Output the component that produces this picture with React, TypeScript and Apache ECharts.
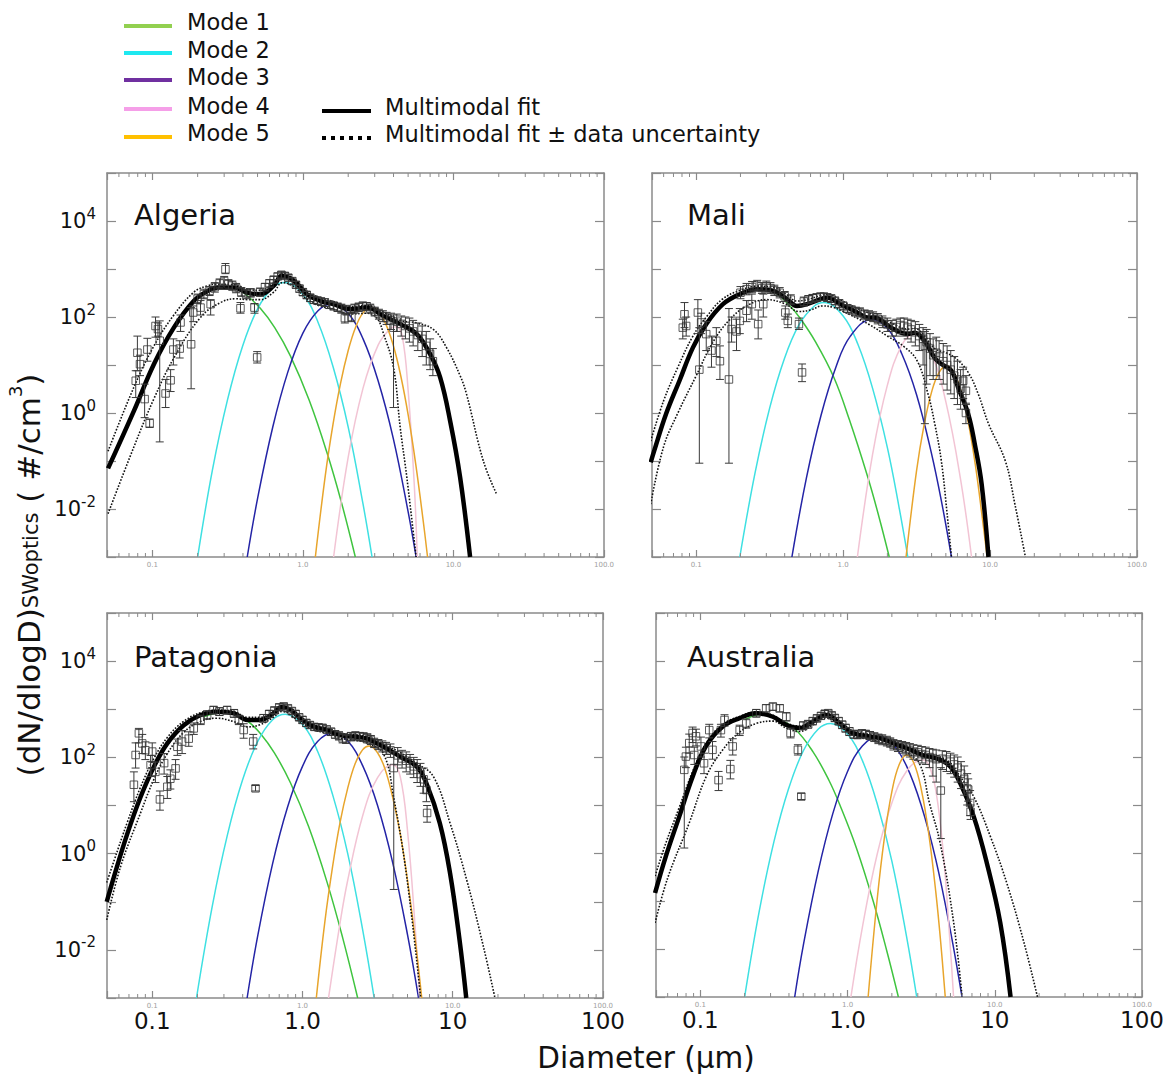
import React, { useEffect, useRef } from 'react';
import * as echarts from 'echarts';

const FONT = 'DejaVu Sans, Verdana, sans-serif';

// ---------- axis ticks / labels ----------
const X_TICK_VALUES = [0.1, 1, 10, 100];
const X_TICK_LABELS_SMALL = ['0.1', '1.0', '10.0', '100.0'];
const X_TICK_LABELS = ['0.1', '1.0', '10', '100'];
const X_MINOR_TICKS = [0.06, 0.07, 0.08, 0.09, 0.2, 0.3, 0.4, 0.5, 0.6, 0.7, 0.8, 0.9, 2, 3, 4, 5, 6, 7, 8, 9, 20, 30, 40, 50, 60, 70, 80, 90];
const Y_LABEL_EXPONENTS = [-2, 0, 2, 4];

const PANEL_NAMES = ['Algeria', 'Mali', 'Patagonia', 'Australia'];
const LEGEND_MODES = ['Mode 1', 'Mode 2', 'Mode 3', 'Mode 4', 'Mode 5'];
const LEGEND_COLORS = ['#92d050', '#1ee8f0', '#7030a0', '#f59fe8', '#ffc000'];
const MODE_COLORS = ['#3fc43f', '#3ee0e2', '#2424a6', '#f2c4d4', '#e8a52c'];

// ---------- Algeria ----------
const ALGERIA_MODE1 = [[0.25, 385], [0.3, 405], [0.35, 400], [0.405, 320], [0.523, 150], [0.65, 60], [0.826, 15.5], [1.1, 1.86], [1.445, 0.15], [1.8, 0.014], [2.23, 0.001]];
const ALGERIA_MODE2 = [[0.2, 0.001], [0.251, 0.066], [0.316, 1.9], [0.398, 25], [0.501, 150], [0.631, 410], [0.757, 525], [1.0, 295], [1.26, 78], [1.585, 9.3], [2.0, 0.51], [2.51, 0.0126], [2.88, 0.001]];
const ALGERIA_MODE3 = [[0.427, 0.001], [0.501, 0.017], [0.631, 0.51], [0.794, 7.1], [1.0, 46], [1.26, 135], [1.55, 186], [2.0, 118], [2.51, 35], [3.16, 4.7], [3.98, 0.3], [5.01, 0.0085], [5.65, 0.001]];
const ALGERIA_MODE4 = [[1.6, 0.001], [2.0, 0.12], [2.51, 3.3], [3.16, 26], [3.8, 57], [4.17, 63], [4.57, 40], [5.0, 3], [5.5, 0.03], [5.75, 0.001]];
const ALGERIA_MODE5 = [[1.21, 0.001], [1.41, 0.051], [1.585, 0.58], [1.78, 4.2], [2.0, 20], [2.24, 61], [2.51, 122], [2.85, 157], [3.16, 133], [3.55, 72], [3.98, 26], [4.47, 5.9], [5.01, 0.89], [5.62, 0.085], [6.31, 0.0054], [6.73, 0.001]];
const ALGERIA_FIT = [[0.0508, 0.07], [0.0756, 1.12], [0.1026, 10.5], [0.139, 60], [0.189, 217], [0.23, 340], [0.27, 410], [0.348, 410], [0.426, 323], [0.523, 298], [0.64, 445], [0.727, 720], [0.869, 565], [1.066, 298], [1.306, 217], [1.6, 185], [2.065, 145], [2.66, 157], [3.44, 105], [4.43, 71], [5.71, 44], [7.0, 16.8], [8.16, 5.5], [9.5, 0.69], [11.07, 0.046], [12.9, 0.001]];
const ALGERIA_FIT_HI = [[0.0508, 0.16], [0.0756, 3.5], [0.1026, 25], [0.139, 110], [0.189, 330], [0.23, 440], [0.27, 480], [0.35, 470], [0.43, 380], [0.52, 360], [0.64, 520], [0.73, 800], [0.87, 640], [1.07, 340], [1.3, 250], [1.6, 210], [2.07, 165], [2.66, 175], [3.44, 125], [4.43, 85], [5.7, 75], [7.36, 55], [9.0, 23], [11.07, 6], [12.2, 2.5], [15.8, 0.1], [19.4, 0.02]];
const ALGERIA_FIT_LO = [[0.0508, 0.008], [0.0756, 0.2], [0.1026, 2], [0.139, 14], [0.209, 98], [0.284, 200], [0.36, 240], [0.43, 230], [0.52, 230], [0.64, 330], [0.73, 520], [0.87, 430], [1.07, 230], [1.3, 170], [1.6, 145], [2.07, 115], [2.66, 120], [3.1, 95], [3.44, 44], [4.0, 8.9], [4.43, 0.5], [4.9, 0.046], [5.65, 0.001]];
// [diameter, value, lower, upper]
const ALGERIA_OBS = [
  [0.0776, 4.7, 2.1, 7.6], [0.0796, 18, 7.6, 40], [0.0828, 10.4, 6, 16], [0.0889, 1.95, 0.8, 4], [0.0927, 21, 12, 36], [0.096, 0.61, 0.5, 0.75],
  [0.105, 65, 38, 100], [0.109, 56, 40, 75], [0.112, 32, 0.25, 83], [0.1225, 2.55, 1.3, 5], [0.1323, 4.8, 2.8, 8], [0.138, 21, 10, 35],
  [0.152, 22, 14, 32], [0.154, 77, 50, 110], [0.181, 27, 3.2, 157], [0.187, 124, 80, 170], [0.2, 240, 190, 300], [0.209, 157, 110, 220],
  [0.22, 300, 240, 380], [0.24, 350, 280, 430], [0.244, 185, 110, 230], [0.26, 420, 330, 520], [0.28, 500, 400, 620], [0.3, 560, 450, 700],
  [0.306, 986, 800, 1300], [0.32, 480, 380, 600], [0.34, 450, 360, 560], [0.36, 400, 320, 500], [0.385, 152, 120, 200], [0.39, 330, 270, 410],
  [0.42, 300, 240, 370], [0.45, 320, 260, 390], [0.477, 157, 120, 190], [0.497, 14.4, 11, 19], [0.52, 330, 270, 400], [0.56, 420, 350, 500],
  [0.6, 500, 420, 600], [0.64, 600, 510, 700], [0.68, 700, 600, 820], [0.72, 760, 650, 880], [0.76, 720, 620, 840], [0.8, 660, 560, 770],
  [0.85, 560, 480, 650], [0.9, 470, 400, 550], [0.95, 390, 330, 460], [1.0, 330, 280, 390], [1.06, 290, 240, 340], [1.12, 250, 210, 300],
  [1.18, 230, 190, 270], [1.25, 220, 185, 260], [1.32, 210, 175, 250], [1.4, 200, 165, 240], [1.5, 180, 150, 215], [1.6, 170, 140, 205],
  [1.7, 160, 130, 195], [1.8, 150, 120, 185], [1.9, 95, 75, 120], [1.95, 140, 110, 175], [2.1, 100, 80, 125], [2.2, 150, 120, 185],
  [2.35, 160, 130, 195], [2.5, 170, 140, 205], [2.65, 165, 135, 200], [2.8, 150, 120, 185], [3.0, 130, 105, 160], [3.2, 115, 90, 145],
  [3.4, 105, 80, 135], [3.6, 95, 70, 125], [3.85, 85, 55, 120], [4.0, 60, 1.3, 110], [4.2, 80, 50, 115], [4.5, 72, 40, 105],
  [4.8, 65, 35, 100], [5.1, 58, 30, 95], [5.4, 50, 25, 85], [5.8, 42, 20, 75], [6.2, 35, 15, 65], [6.6, 25, 10, 50], [7.0, 17, 8, 35], [7.3, 12, 6, 22],
];

// ---------- Mali ----------
const MALI_MODE1 = [[0.2, 300], [0.258, 380], [0.33, 345], [0.436, 167], [0.511, 93], [0.65, 30], [0.865, 5.5], [1.1, 0.74], [1.465, 0.048], [1.75, 0.007], [2.06, 0.001]];
const MALI_MODE2 = [[0.198, 0.001], [0.251, 0.055], [0.316, 1.26], [0.398, 13.5], [0.501, 69], [0.631, 166], [0.739, 200], [1.0, 105], [1.26, 27], [1.585, 3.3], [2.0, 0.19], [2.4, 0.011], [2.755, 0.001]];
const MALI_MODE3 = [[0.448, 0.001], [0.562, 0.044], [0.708, 0.91], [0.891, 8.9], [1.12, 40], [1.563, 89], [2.0, 58], [2.51, 17], [3.16, 2.4], [3.98, 0.15], [4.7, 0.013], [5.46, 0.001]];
const MALI_MODE4 = [[1.25, 0.001], [1.585, 0.135], [2.0, 3.8], [2.51, 26], [3.06, 44], [3.98, 17], [5.01, 1.66], [6.31, 0.04], [7.48, 0.001]];
const MALI_MODE5 = [[2.68, 0.001], [3.16, 0.063], [3.55, 0.55], [3.98, 2.6], [4.47, 6.8], [5.05, 9.5], [5.62, 7.3], [6.31, 3.0], [7.08, 0.68], [7.94, 0.083], [8.91, 0.0056], [9.55, 0.001]];
const MALI_FIT = [[0.049, 0.094], [0.0518, 0.164], [0.0623, 0.95], [0.0769, 4.7], [0.0949, 23], [0.117, 71], [0.152, 185], [0.198, 298], [0.258, 380], [0.336, 350], [0.414, 235], [0.484, 170], [0.568, 185], [0.701, 235], [0.778, 254], [0.961, 185], [1.25, 124], [1.465, 98], [1.627, 98], [2.12, 60], [2.755, 44], [3.06, 47], [3.58, 31.6], [4.2, 14], [4.66, 10.5], [5.46, 7.6], [6.06, 3.4], [7.1, 0.95], [7.88, 0.22], [8.76, 0.033], [9.75, 0.001]];
const MALI_FIT_HI = [[0.049, 0.26], [0.06, 1.8], [0.075, 9], [0.095, 40], [0.12, 110], [0.152, 240], [0.2, 360], [0.26, 440], [0.336, 410], [0.414, 290], [0.484, 215], [0.568, 230], [0.701, 280], [0.778, 300], [0.961, 225], [1.25, 150], [1.5, 120], [2.12, 75], [2.755, 56], [3.06, 58], [3.58, 40], [4.2, 22], [5.0, 18], [5.8, 14], [7.1, 7], [8.3, 2.5], [9.75, 0.6], [12.7, 0.1], [14.8, 0.012], [17.4, 0.001]];
const MALI_FIT_LO = [[0.049, 0.0126], [0.06, 0.2], [0.075, 1.0], [0.1, 6], [0.13, 30], [0.17, 90], [0.22, 170], [0.3, 230], [0.4, 190], [0.5, 130], [0.6, 140], [0.72, 170], [0.85, 160], [1.0, 130], [1.5, 70], [2.0, 40], [2.6, 24], [3.2, 12], [3.78, 2.5], [4.2, 0.6], [4.66, 0.1], [5.1, 0.008], [5.46, 0.001]];
const MALI_OBS = [
  [0.081, 60, 35, 90], [0.0832, 114, 60, 200], [0.0854, 65, 40, 100], [0.1026, 124, 45, 230], [0.105, 8, 0.09, 60], [0.108, 77, 45, 120],
  [0.117, 44, 20, 80], [0.127, 20, 9, 40], [0.137, 32, 15, 60], [0.145, 12, 5, 25], [0.167, 5, 0.09, 150], [0.174, 56, 30, 100],
  [0.188, 50, 20, 90], [0.198, 83, 45, 150], [0.2, 320, 240, 430], [0.22, 135, 80, 220], [0.22, 380, 290, 500], [0.239, 185, 90, 300],
  [0.24, 420, 320, 550], [0.26, 450, 350, 580], [0.264, 71, 35, 140], [0.28, 400, 310, 520], [0.286, 185, 100, 300], [0.3, 430, 330, 560],
  [0.32, 400, 310, 520], [0.34, 360, 280, 460], [0.37, 320, 250, 410], [0.4, 270, 210, 340], [0.404, 124, 90, 170], [0.42, 83, 60, 115],
  [0.44, 230, 180, 290], [0.5, 71, 55, 95], [0.525, 7.0, 4.5, 10.5], [0.54, 210, 170, 260], [0.58, 230, 190, 280], [0.62, 245, 205, 295],
  [0.66, 255, 215, 305], [0.7, 265, 220, 315], [0.74, 265, 220, 315], [0.78, 255, 210, 305], [0.83, 240, 200, 290], [0.88, 215, 180, 260],
  [0.94, 190, 155, 230], [1.0, 170, 140, 205], [1.07, 150, 125, 180], [1.14, 140, 115, 170], [1.22, 130, 105, 160], [1.3, 125, 100, 155],
  [1.4, 112, 90, 140], [1.5, 105, 85, 135], [1.6, 100, 80, 128], [1.72, 92, 72, 118], [1.85, 80, 60, 105], [2.0, 70, 50, 95],
  [2.15, 60, 40, 85], [2.3, 62, 40, 90], [2.45, 68, 45, 95], [2.6, 65, 40, 95], [2.75, 60, 35, 90], [2.9, 55, 30, 85],
  [3.1, 48, 25, 80], [3.3, 40, 20, 70], [3.5, 35, 10, 60], [3.6, 25, 0.6, 50], [3.7, 30, 4, 55], [3.9, 22, 6, 45],
  [4.1, 16, 5, 35], [4.3, 18, 6, 38], [4.5, 15, 5, 32], [4.8, 12, 4, 28], [5.1, 10, 3, 25], [5.4, 8, 2.5, 20],
  [5.7, 6, 2, 15], [6.0, 5, 1.5, 12], [6.3, 3.2, 1.2, 8], [6.56, 4.7, 2, 9], [6.85, 2.9, 1.5, 6], [6.85, 1.0, 0.6, 1.6],
];

// ---------- Patagonia ----------
const PATAGONIA_MODE1 = [[0.22, 700], [0.3, 870], [0.36, 790], [0.428, 580], [0.526, 311], [0.65, 124], [0.83, 30], [1.1, 3.6], [1.46, 0.25], [1.85, 0.018], [2.33, 0.001]];
const PATAGONIA_MODE2 = [[0.197, 0.001], [0.251, 0.081], [0.316, 2.4], [0.398, 33], [0.501, 208], [0.631, 600], [0.769, 790], [1.0, 480], [1.26, 134], [1.585, 17], [2.0, 1.0], [2.51, 0.027], [3.0, 0.001]];
const PATAGONIA_MODE3 = [[0.428, 0.001], [0.501, 0.018], [0.631, 0.6], [0.794, 9.1], [1.0, 65], [1.26, 213], [1.59, 316], [2.0, 218], [2.51, 68], [3.16, 10], [3.98, 0.66], [5.01, 0.02], [5.92, 0.001]];
const PATAGONIA_MODE4 = [[1.49, 0.001], [1.78, 0.037], [2.0, 0.28], [2.51, 6], [3.16, 38], [3.98, 70], [4.47, 40], [5.0, 3], [5.62, 0.03], [6.03, 0.001]];
const PATAGONIA_MODE5 = [[1.236, 0.001], [1.41, 0.039], [1.585, 0.53], [1.78, 4.5], [2.0, 23], [2.24, 74], [2.51, 143], [2.77, 172], [3.16, 125], [3.55, 56], [3.98, 15], [4.47, 2.6], [5.01, 0.27], [5.62, 0.017], [6.22, 0.001]];
const PATAGONIA_FIT = [[0.0498, 0.1], [0.0556, 0.33], [0.0683, 2.6], [0.0836, 15], [0.1026, 64], [0.126, 195], [0.162, 465], [0.21, 760], [0.27, 890], [0.35, 820], [0.43, 600], [0.525, 600], [0.64, 820], [0.73, 1120], [0.85, 930], [0.967, 645], [1.19, 433], [1.46, 369], [1.78, 290], [2.18, 270], [2.67, 245], [3.45, 166], [4.48, 103], [5.76, 64], [6.68, 29], [8.2, 4.3], [9.6, 0.39], [11.1, 0.016], [12.3, 0.001]];
const PATAGONIA_FIT_HI = [[0.0498, 0.25], [0.0556, 0.7], [0.0683, 4.5], [0.0836, 24], [0.1026, 95], [0.126, 260], [0.162, 560], [0.21, 850], [0.27, 960], [0.35, 900], [0.43, 680], [0.525, 680], [0.64, 900], [0.73, 1200], [0.85, 1000], [0.967, 700], [1.19, 480], [1.46, 410], [1.78, 320], [2.18, 300], [2.67, 275], [3.45, 190], [4.48, 125], [5.76, 75], [7.43, 40], [9.6, 4.3], [12.4, 0.28], [16, 0.0117], [19.1, 0.001]];
const PATAGONIA_FIT_LO = [[0.0498, 0.042], [0.0616, 0.54], [0.0836, 7], [0.1026, 35], [0.126, 120], [0.162, 330], [0.21, 560], [0.27, 650], [0.35, 550], [0.43, 430], [0.525, 480], [0.64, 680], [0.73, 900], [0.967, 540], [1.19, 370], [1.46, 320], [1.78, 250], [2.18, 230], [2.67, 200], [3.45, 120], [4.04, 15], [4.94, 0.33], [6.12, 0.001]];
const PATAGONIA_OBS = [
  [0.0755, 27, 12, 50], [0.0775, 112, 60, 200], [0.0815, 316, 200, 400], [0.0858, 195, 120, 300], [0.09, 141, 90, 210], [0.0975, 69, 40, 110],
  [0.1, 132, 80, 200], [0.105, 50, 30, 80], [0.1125, 13.4, 8, 20], [0.12, 76, 45, 120], [0.126, 24.5, 14, 40], [0.132, 36, 22, 55],
  [0.143, 59, 35, 90], [0.147, 166, 110, 240], [0.158, 213, 120, 360], [0.175, 245, 170, 340], [0.189, 400, 300, 520], [0.21, 600, 480, 750],
  [0.232, 760, 620, 930], [0.256, 960, 800, 1150], [0.28, 890, 740, 1080], [0.315, 960, 800, 1150], [0.35, 820, 680, 990], [0.377, 600, 480, 750],
  [0.406, 370, 250, 500], [0.47, 213, 150, 300], [0.487, 22.7, 20, 26], [0.55, 650, 540, 780], [0.6, 800, 680, 940], [0.65, 950, 810, 1100],
  [0.7, 1100, 950, 1280], [0.75, 1150, 990, 1330], [0.8, 1050, 900, 1220], [0.85, 920, 790, 1070], [0.9, 800, 680, 940], [0.95, 680, 580, 800],
  [1.0, 600, 510, 710], [1.06, 520, 440, 610], [1.12, 470, 400, 550], [1.2, 430, 365, 505], [1.28, 420, 355, 495], [1.36, 410, 345, 485],
  [1.45, 380, 320, 450], [1.55, 340, 285, 405], [1.65, 300, 250, 360], [1.75, 280, 230, 340], [1.85, 250, 200, 310], [1.95, 240, 195, 295],
  [2.1, 270, 220, 330], [2.25, 280, 230, 340], [2.4, 270, 220, 330], [2.55, 265, 215, 325], [2.7, 250, 200, 310], [2.85, 230, 185, 285],
  [3.0, 200, 160, 250], [3.2, 185, 145, 235], [3.4, 170, 130, 220], [3.6, 155, 115, 205], [3.85, 140, 100, 190], [4.05, 60, 0.18, 130],
  [4.3, 110, 70, 160], [4.6, 95, 60, 140], [4.9, 85, 50, 130], [5.2, 75, 45, 115], [5.5, 65, 38, 100], [5.8, 55, 30, 90],
  [6.1, 45, 25, 75], [6.4, 35, 18, 60], [6.68, 21, 12, 35], [6.75, 7, 4.5, 10],
];

// ---------- Australia ----------
const AUSTRALIA_MODE1 = [[0.2, 600], [0.27, 800], [0.33, 640], [0.4375, 388], [0.583, 128], [0.75, 32], [0.887, 10], [1.15, 1.26], [1.496, 0.098], [1.85, 0.009], [2.215, 0.001]];
const AUSTRALIA_MODE2 = [[0.2, 0.001], [0.251, 0.06], [0.316, 1.7], [0.398, 22], [0.501, 135], [0.631, 380], [0.767, 500], [1.0, 300], [1.26, 85], [1.585, 11], [2.0, 0.68], [2.51, 0.019], [2.95, 0.001]];
const AUSTRALIA_MODE3 = [[0.4375, 0.001], [0.501, 0.012], [0.631, 0.41], [0.794, 6.6], [1.0, 50], [1.26, 170], [1.62, 268], [2.0, 195], [2.51, 66], [3.16, 10], [3.98, 0.72], [5.01, 0.023], [5.99, 0.001]];
const AUSTRALIA_MODE4 = [[1.054, 0.001], [1.26, 0.028], [1.585, 0.91], [2.0, 11], [2.51, 50], [3.2, 87], [3.55, 70], [3.98, 20], [4.47, 1.0], [5.0, 0.01], [5.25, 0.001]];
const AUSTRALIA_MODE5 = [[1.38, 0.001], [1.585, 0.1], [1.78, 2.1], [2.0, 19], [2.24, 69], [2.53, 110], [2.82, 75], [3.16, 22], [3.55, 2.7], [3.98, 0.15], [4.3, 0.013], [4.61, 0.001]];
const AUSTRALIA_FIT = [[0.0493, 0.147], [0.0583, 0.85], [0.072, 5.8], [0.0887, 39], [0.109, 166], [0.142, 430], [0.185, 645], [0.24, 815], [0.311, 690], [0.384, 465], [0.473, 400], [0.583, 550], [0.719, 750], [0.887, 500], [1.08, 315], [1.37, 270], [1.67, 246], [2.05, 193], [2.52, 152], [3.23, 110], [4.26, 87], [4.99, 63], [5.82, 28.5], [7.19, 5.8], [8.83, 0.62], [10.9, 0.035], [12.8, 0.001]];
const AUSTRALIA_FIT_HI = [[0.0493, 0.33], [0.0583, 1.6], [0.072, 9], [0.0887, 50], [0.109, 190], [0.142, 480], [0.185, 700], [0.24, 870], [0.311, 740], [0.384, 510], [0.473, 440], [0.583, 600], [0.719, 810], [0.887, 550], [1.08, 350], [1.37, 300], [1.67, 270], [2.05, 215], [2.52, 170], [3.23, 125], [4.26, 100], [4.99, 75], [5.82, 39], [7.19, 15], [9.34, 2.2], [12.1, 0.23], [15.8, 0.0135], [19.5, 0.001]];
const AUSTRALIA_FIT_LO = [[0.0493, 0.035], [0.06, 0.3], [0.084, 4.2], [0.11, 40], [0.142, 141], [0.185, 330], [0.24, 500], [0.311, 560], [0.384, 400], [0.473, 340], [0.583, 470], [0.719, 650], [0.887, 440], [1.08, 280], [1.37, 235], [1.67, 210], [2.05, 165], [2.52, 125], [3.1, 70], [3.6, 11], [4.26, 1.6], [5.26, 0.035], [6.0, 0.001]];
const AUSTRALIA_OBS = [
  [0.0778, 54, 1.27, 100], [0.0798, 102, 60, 160], [0.0841, 195, 120, 300], [0.0886, 316, 200, 420], [0.091, 110, 70, 160], [0.0934, 270, 170, 380],
  [0.101, 166, 100, 260], [0.106, 74, 45, 120], [0.115, 363, 250, 480], [0.121, 141, 90, 210], [0.133, 33, 20, 50], [0.138, 363, 260, 480],
  [0.146, 590, 440, 760], [0.16, 56, 35, 85], [0.166, 166, 110, 240], [0.185, 363, 280, 460], [0.205, 500, 400, 620], [0.24, 815, 680, 980],
  [0.28, 1035, 870, 1230], [0.311, 1120, 940, 1330], [0.346, 1035, 870, 1230], [0.384, 690, 560, 840], [0.41, 316, 250, 400], [0.46, 141, 110, 180],
  [0.485, 15, 13, 17.5], [0.5, 450, 370, 540], [0.54, 480, 400, 580], [0.58, 560, 470, 660], [0.62, 640, 540, 750], [0.66, 720, 610, 840],
  [0.7, 800, 680, 930], [0.74, 820, 700, 950], [0.78, 740, 630, 860], [0.82, 650, 550, 760], [0.87, 560, 470, 660], [0.92, 470, 390, 560],
  [0.97, 400, 330, 480], [1.03, 340, 280, 410], [1.1, 300, 245, 360], [1.17, 290, 240, 350], [1.25, 310, 255, 370], [1.33, 300, 245, 360],
  [1.42, 280, 230, 340], [1.52, 260, 210, 320], [1.62, 240, 190, 300], [1.72, 230, 180, 290], [1.85, 215, 170, 270], [1.95, 200, 160, 250],
  [2.05, 180, 140, 230], [2.2, 170, 130, 220], [2.35, 160, 120, 210], [2.5, 150, 110, 200], [2.65, 140, 100, 190], [2.8, 130, 90, 180],
  [3.0, 125, 85, 175], [3.2, 115, 75, 165], [3.4, 110, 70, 160], [3.6, 100, 60, 150], [3.8, 95, 40, 145], [4.0, 90, 30, 140],
  [4.3, 20, 2, 60], [4.4, 92, 55, 135], [4.7, 88, 50, 130], [5.0, 80, 45, 120], [5.3, 70, 38, 110], [5.6, 60, 30, 100],
  [5.9, 45, 22, 80], [6.2, 35, 16, 65], [6.5, 22, 10, 45], [6.6, 21, 12, 35], [6.8, 11, 6, 20], [6.85, 7.2, 5, 10],
];

const PANELS = [
  { modes: [ALGERIA_MODE1, ALGERIA_MODE2, ALGERIA_MODE3, ALGERIA_MODE4, ALGERIA_MODE5], fit: ALGERIA_FIT, hi: ALGERIA_FIT_HI, lo: ALGERIA_FIT_LO, obs: ALGERIA_OBS },
  { modes: [MALI_MODE1, MALI_MODE2, MALI_MODE3, MALI_MODE4, MALI_MODE5], fit: MALI_FIT, hi: MALI_FIT_HI, lo: MALI_FIT_LO, obs: MALI_OBS },
  { modes: [PATAGONIA_MODE1, PATAGONIA_MODE2, PATAGONIA_MODE3, PATAGONIA_MODE4, PATAGONIA_MODE5], fit: PATAGONIA_FIT, hi: PATAGONIA_FIT_HI, lo: PATAGONIA_FIT_LO, obs: PATAGONIA_OBS },
  { modes: [AUSTRALIA_MODE1, AUSTRALIA_MODE2, AUSTRALIA_MODE3, AUSTRALIA_MODE4, AUSTRALIA_MODE5], fit: AUSTRALIA_FIT, hi: AUSTRALIA_FIT_HI, lo: AUSTRALIA_FIT_LO, obs: AUSTRALIA_OBS },
];

const GRIDS = [
  { left: 107, top: 173, width: 497, height: 384 },
  { left: 652, top: 173, width: 485, height: 384 },
  { left: 107, top: 613, width: 496, height: 385 },
  { left: 656, top: 613, width: 486, height: 384 },
];
const TITLE_POS = [[134, 215], [687, 215], [134, 657], [687, 657]];

const AXIS_GRAY = '#8a8a8a';

function xLabelIndex(v: number) {
  return X_TICK_VALUES.findIndex((t) => Math.abs(Math.log10(v) - Math.log10(t)) < 0.01);
}

function buildOption() {
  const xAxis: any[] = [];
  const yAxis: any[] = [];
  const series: any[] = [];

  GRIDS.forEach((g, i) => {
    const xCommon = {
      type: 'log', logBase: 10, min: 0.05, max: 100, gridIndex: i,
      axisLine: { show: true, onZero: false, lineStyle: { color: AXIS_GRAY, width: 1.5 } },
      axisTick: { show: true, inside: true, length: 7, lineStyle: { color: AXIS_GRAY, width: 1.2 } },
      splitLine: { show: false }, minorTick: { show: false },
    };
    xAxis.push({
      ...xCommon, position: 'bottom',
      axisLabel: {
        show: true, fontSize: 7, color: '#a0a0a0', margin: 4, fontFamily: FONT,
        formatter: (v: number) => { const k = xLabelIndex(v); return k >= 0 ? X_TICK_LABELS_SMALL[k] : ''; },
      },
    });
    xAxis.push({ ...xCommon, position: 'top', axisLabel: { show: false } });

    const yCommon = {
      type: 'log', logBase: 10, min: 0.001, max: 100000, splitNumber: 8, gridIndex: i,
      axisLine: { show: true, onZero: false, lineStyle: { color: AXIS_GRAY, width: 1.5 } },
      axisTick: { show: true, inside: true, length: 9, lineStyle: { color: AXIS_GRAY, width: 1.2 } },
      splitLine: { show: false }, minorTick: { show: false },
    };
    const showY = i === 0 || i === 2;
    yAxis.push({
      ...yCommon, position: 'left',
      axisLabel: {
        show: showY, margin: 11,
        formatter: (v: number) => {
          const e = Math.round(Math.log10(v));
          return Y_LABEL_EXPONENTS.includes(e) ? `{b|10}{s|${e}}` : '';
        },
        rich: {
          b: { fontSize: 21, lineHeight: 30, fontFamily: FONT, color: '#111' },
          s: { fontSize: 15, lineHeight: 15, verticalAlign: 'top', fontFamily: FONT, color: '#111' },
        },
      },
    });
    yAxis.push({ ...yCommon, position: 'right', axisLabel: { show: false } });
  });

  // big tick labels under the bottom panels
  [2, 3].forEach((i) => {
    xAxis.push({
      type: 'log', logBase: 10, min: 0.05, max: 100, gridIndex: i, position: 'bottom',
      axisLine: { show: false }, axisTick: { show: false }, splitLine: { show: false },
      axisLabel: {
        show: true, fontSize: 23, color: '#111', margin: 11, fontFamily: FONT,
        formatter: (v: number) => { const k = xLabelIndex(v); return k >= 0 ? X_TICK_LABELS[k] : ''; },
      },
    });
  });

  PANELS.forEach((p, i) => {
    const xi = i * 2;
    const yi = i * 2;
    const base = { xAxisIndex: xi, yAxisIndex: yi, silent: true, animation: false };

    p.modes.forEach((m, k) => {
      series.push({
        ...base, type: 'line', data: m, symbol: 'none', showSymbol: false, smooth: 0.4, clip: true, z: 2,
        lineStyle: { color: MODE_COLORS[k], width: 1.5 },
      });
    });
    [p.hi, p.lo].forEach((d) => {
      series.push({
        ...base, type: 'line', data: d, symbol: 'none', showSymbol: false, smooth: 0.4, clip: true, z: 3,
        lineStyle: { color: '#111', width: 1.6, type: [1.6, 1.6] },
      });
    });
    series.push({
      ...base, type: 'line', data: p.fit, symbol: 'none', showSymbol: false, smooth: 0.4, clip: true, z: 4,
      lineStyle: { color: '#000', width: 4.5 },
    });
    series.push({
      ...base, type: 'custom', data: p.obs, encode: { x: 0, y: [2, 3] }, clip: true, z: 5,
      renderItem: (params: any, api: any) => {
        const x = api.value(0);
        const a = api.coord([x, api.value(3)]);
        const b = api.coord([x, api.value(2)]);
        const w = 4;
        const st = { stroke: '#3a3a3a', lineWidth: 1 };
        return {
          type: 'group',
          children: [
            { type: 'line', shape: { x1: a[0], y1: a[1], x2: b[0], y2: b[1] }, style: st },
            { type: 'line', shape: { x1: a[0] - w, y1: a[1], x2: a[0] + w, y2: a[1] }, style: st },
            { type: 'line', shape: { x1: b[0] - w, y1: b[1], x2: b[0] + w, y2: b[1] }, style: st },
          ],
        };
      },
    });
    series.push({
      ...base, type: 'scatter', data: p.obs.map((d) => [d[0], d[1]]), symbol: 'rect', symbolSize: 7.5, z: 6,
      itemStyle: { color: 'rgba(255,255,255,0)', borderColor: '#333', borderWidth: 1 },
    });
    // minor ticks on bottom and top axes
    series.push({
      ...base, type: 'custom', data: X_MINOR_TICKS.map((v) => [v, 1]), clip: false, z: 7,
      renderItem: (params: any, api: any) => {
        const b = api.coord([api.value(0), 0.001]);
        const t = api.coord([api.value(0), 100000]);
        const st = { stroke: AXIS_GRAY, lineWidth: 1 };
        return {
          type: 'group',
          children: [
            { type: 'line', shape: { x1: b[0], y1: b[1], x2: b[0], y2: b[1] - 4 }, style: st },
            { type: 'line', shape: { x1: t[0], y1: t[1], x2: t[0], y2: t[1] + 4 }, style: st },
          ],
        };
      },
    });
  });

  const graphic: any[] = [];
  const legendLineY = [26, 53, 80, 109, 137];
  const legendTextY = [22, 50, 77, 106, 133];
  const LEGEND_FONT = 22.5;
  LEGEND_MODES.forEach((name, k) => {
    graphic.push({ type: 'line', shape: { x1: 124, y1: legendLineY[k], x2: 172, y2: legendLineY[k] }, style: { stroke: LEGEND_COLORS[k], lineWidth: 4 }, silent: true });
    graphic.push({ type: 'text', x: 187, y: legendTextY[k], style: { text: name, fontSize: LEGEND_FONT, fontFamily: FONT, fill: '#111', align: 'left', verticalAlign: 'middle' }, silent: true });
  });
  graphic.push({ type: 'line', shape: { x1: 322, y1: 111, x2: 371, y2: 111 }, style: { stroke: '#000', lineWidth: 4 }, silent: true });
  graphic.push({ type: 'text', x: 385, y: 107, style: { text: 'Multimodal fit', fontSize: LEGEND_FONT, fontFamily: FONT, fill: '#111', align: 'left', verticalAlign: 'middle' }, silent: true });
  graphic.push({ type: 'line', shape: { x1: 322, y1: 138, x2: 371, y2: 138 }, style: { stroke: '#000', lineWidth: 4, lineDash: [4, 5] }, silent: true });
  graphic.push({ type: 'text', x: 385, y: 134, style: { text: 'Multimodal fit ± data uncertainty', fontSize: LEGEND_FONT, fontFamily: FONT, fill: '#111', align: 'left', verticalAlign: 'middle' }, silent: true });

  PANEL_NAMES.forEach((name, i) => {
    graphic.push({ type: 'text', x: TITLE_POS[i][0], y: TITLE_POS[i][1], z: 100, style: { text: name, fontSize: 29, fontFamily: FONT, fill: '#111', align: 'left', verticalAlign: 'middle' }, silent: true });
  });

  graphic.push({
    type: 'text', x: 29, y: 575, rotation: Math.PI / 2, silent: true,
    style: {
      text: '{a|(dN/dlogD)}{s|SWoptics}{a| ( #/cm}{p|3}{a|)}',
      align: 'center', verticalAlign: 'middle', fontFamily: FONT, fill: '#111',
      rich: {
        a: { fontSize: 31, lineHeight: 46, fontFamily: FONT, fill: '#111' },
        s: { fontSize: 21, lineHeight: 21, verticalAlign: 'bottom', padding: [0, 0, 11, 0], fontFamily: FONT, fill: '#111' },
        p: { fontSize: 18, lineHeight: 18, verticalAlign: 'top', fontFamily: FONT, fill: '#111' },
      },
    },
  });
  graphic.push({ type: 'text', x: 646, y: 1058, silent: true, style: { text: 'Diameter (µm)', fontSize: 29.5, fontFamily: FONT, fill: '#111', align: 'center', verticalAlign: 'middle' } });

  return {
    animation: false,
    backgroundColor: '#fff',
    textStyle: { fontFamily: FONT },
    grid: GRIDS.map((g) => ({ ...g, containLabel: false, outerBoundsMode: 'none', show: false })),
    xAxis, yAxis, series, graphic,
  };
}

export default function App() {
  const ref = useRef<HTMLDivElement>(null);
  useEffect(() => {
    const chart = echarts.init(ref.current as HTMLDivElement, undefined, { renderer: 'svg' });
    chart.setOption(buildOption() as any);
    return () => chart.dispose();
  }, []);
  return <div ref={ref} style={{ position: 'absolute', left: 0, top: 0, width: 1175, height: 1075, background: '#fff' }} />;
}
